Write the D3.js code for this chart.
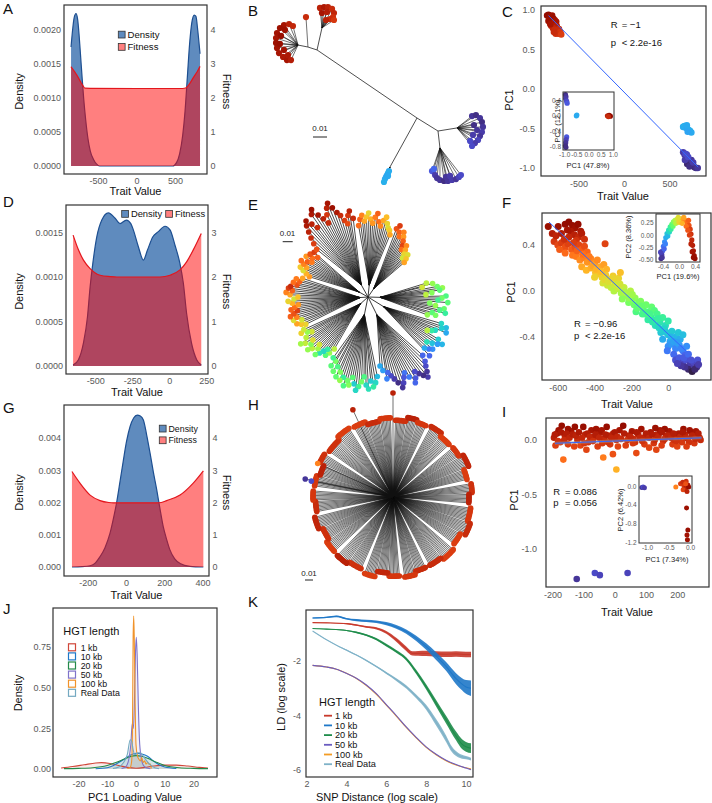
<!DOCTYPE html>
<html>
<head>
<meta charset="utf-8">
<script src="https://cdn.jsdelivr.net/npm/d3@7"></script>
<style>
  body { margin: 0; background: #fff; }
  svg { display: block; }
</style>
</head>
<body>
<svg id="fig" width="712" height="803"></svg>
<script>
// ---------------- data ----------------
// A, D, G: [trait value, density] and [trait value, fitness]
const aDensity = [[-850, 0.00175], [-830, 0.0020], [-810, 0.00218], [-786, 0.00224], [-765, 0.00216], [-745, 0.00192], [-725, 0.0016], [-705, 0.00128], [-685, 0.00098], [-660, 0.00068], [-630, 0.0004], [-600, 0.00022], [-560, 0.0001], [-520, 0.00003], [-480, 0], [0, 0], [470, 0], [520, 0.00005], [560, 0.00018], [600, 0.00045], [630, 0.0008], [660, 0.0013], [690, 0.0018], [720, 0.00212], [750, 0.00222], [772, 0.0022], [795, 0.002], [825, 0.00165]]
const aFitness = [[-850, 2.92], [-800, 2.76], [-756, 2.6], [-720, 2.45], [-690, 2.34], [-670, 2.29], [-600, 2.285], [0, 2.28], [600, 2.28], [645, 2.3], [690, 2.42], [738, 2.6], [790, 2.78], [825, 2.93]]
const dDensity = [[-650, 0.00001], [-614, 0.00007], [-580, 0.00026], [-553, 0.00055], [-535, 0.00089], [-517, 0.00115], [-490, 0.00145], [-456, 0.00164], [-412, 0.00172], [-366, 0.00166], [-333, 0.0016], [-290, 0.00164], [-260, 0.0016], [-243, 0.00153], [-209, 0.00134], [-175, 0.00119], [-148, 0.0013], [-112, 0.00145], [-74, 0.00151], [-29, 0.00157], [5, 0.00153], [38, 0.00136], [72, 0.00115], [95, 0.00093], [117, 0.00059], [151, 0.00025], [185, 0.00007], [216, 0.00001]]
const dFitness = [[-650, 2.94], [-614, 2.61], [-580, 2.38], [-535, 2.19], [-467, 2.04], [-400, 2.01], [-355, 2.0], [-63, 2.0], [5, 2.04], [72, 2.16], [117, 2.34], [162, 2.61], [216, 2.98]]
const gDensity = [[-283, 0], [-230, 0.00001], [-188, 0.00004], [-160, 0.00013], [-136, 0.00032], [-110, 0.0006], [-84, 0.00104], [-66, 0.0015], [-49, 0.002], [-30, 0.0027], [-14, 0.0033], [3, 0.0039], [21, 0.00435], [40, 0.00462], [59, 0.00471], [75, 0.00468], [91, 0.00456], [108, 0.0041], [126, 0.00353], [143, 0.00295], [161, 0.00239], [178, 0.0018], [195, 0.00125], [213, 0.00085], [230, 0.00053], [255, 0.00025], [283, 0.00011], [335, 0.00002], [405, 0]]
const gFitness = [[-283, 2.96], [-241, 2.6], [-188, 2.23], [-136, 2.06], [-90, 2.0], [-66, 1.99], [161, 1.99], [185, 2.0], [213, 2.06], [283, 2.23], [352, 2.6], [405, 2.98]]

// B: unrooted tree, node positions in units of 0.001 substitutions [x, y, parent]
const bNodes = {
  root: [0, 0, null], n2: [15, 9.3, 'root'], n3: [28.6, 7.1, 'n2'], nP: [16.4, 21.4, 'n2'],
  nC: [-19.3, 35, 'root'], n4: [-71.4, -48.6, 'root'], nR1: [-67.9, -64.3, 'n4'],
  n5: [-77.9, -50.7, 'n4'], nR2: [-85, -52.1, 'n5']
}
// tips: [parent, x, y, colour value]
const bTips = [
  ['n3', 39.3, -1.4, 0.05], ['n3', 42.1, -2.1, 0.04], ['n3', 45, 0, 0.05], ['n3', 46.4, 2.9, 0.04], ['n3', 47.1, 6.4, 0.05], ['n3', 46.4, 10, 0.06], ['n3', 45, 12.9, 0.05], ['n3', 43.6, 15.7, 0.07], ['n3', 41.4, 17.9, 0.06], ['n3', 39.3, 20, 0.08], ['n3', 40.7, 5, 0.04], ['n3', 42.9, 8.6, 0.05], ['n3', 40, 12.1, 0.06], ['n3', 37.9, 16.4, 0.08],
  ['nP', 10.7, 37.9, 0.1], ['nP', 12.9, 40.7, 0.06], ['nP', 14.3, 42.9, 0.05], ['nP', 16.4, 44.3, 0.05], ['nP', 19.3, 45, 0.04], ['nP', 22.1, 45, 0.05], ['nP', 25, 44.3, 0.06], ['nP', 27.9, 43.6, 0.05], ['nP', 30, 42.1, 0.07], ['nP', 31.4, 40.7, 0.08], ['nP', 20.7, 42.1, 0.05], ['nP', 23.6, 41.4, 0.06], ['nP', 12.1, 36.4, 0.12],
  ['nC', -20, 37.9, 0.22], ['nC', -20.7, 39.3, 0.23], ['nC', -21.4, 40.7, 0.22], ['nC', -22.1, 42.1, 0.21], ['nC', -22.9, 43.6, 0.22], ['nC', -23.6, 45.7, 0.23], ['nC', -20.7, 41.4, 0.22],
  ['nR1', -69.3, -78.6, 0.9], ['nR1', -66.4, -79.3, 0.92], ['nR1', -63.6, -79.3, 0.9], ['nR1', -60.7, -77.9, 0.88], ['nR1', -59.3, -75, 0.89], ['nR1', -60, -72.1, 0.87], ['nR1', -62.1, -70.7, 0.88], ['nR1', -65, -70, 0.9], ['nR1', -67.9, -75, 0.93], ['nR1', -64.3, -75.7, 0.91], ['nR1', -59.3, -70, 0.86],
  ['n5', -79.3, -72.1, 0.88],
  ['nR2', -95, -66.4, 0.93], ['nR2', -91.4, -67.1, 0.9], ['nR2', -88.6, -65.7, 0.89], ['nR2', -97.9, -64.3, 0.95], ['nR2', -100, -60.7, 0.94], ['nR2', -100.7, -57.1, 0.93], ['nR2', -100.7, -53.6, 0.95], ['nR2', -100, -50, 0.94], ['nR2', -98.6, -46.4, 0.93], ['nR2', -95.7, -43.6, 0.92], ['nR2', -92.9, -41.4, 0.93], ['nR2', -90, -41.4, 0.91], ['nR2', -97.1, -58.6, 0.96], ['nR2', -94.3, -62.9, 0.95], ['nR2', -97.9, -52.9, 0.96], ['nR2', -95, -48.6, 0.94], ['nR2', -92.1, -45, 0.92]
]

// C: [trait value, PC1, colour value]
const cPoints = [
  [-845, 0.93, 0.97], [-830, 0.94, 0.98], [-815, 0.92, 0.96], [-800, 0.9, 0.97], [-790, 0.93, 0.95], [-775, 0.89, 0.96], [-760, 0.87, 0.94], [-820, 0.88, 0.95], [-805, 0.85, 0.93], [-785, 0.84, 0.92], [-765, 0.82, 0.92], [-745, 0.85, 0.93], [-740, 0.8, 0.91], [-800, 0.8, 0.9], [-780, 0.77, 0.89], [-760, 0.75, 0.88], [-735, 0.74, 0.87], [-715, 0.76, 0.88], [-700, 0.72, 0.86], [-720, 0.7, 0.86], [-750, 0.7, 0.87], [-690, 0.69, 0.85], [-770, 0.72, 0.88], [-830, 0.86, 0.95], [-810, 0.82, 0.93],
  [650, -0.48, 0.22], [665, -0.47, 0.23], [680, -0.49, 0.22], [695, -0.5, 0.21], [710, -0.52, 0.22], [725, -0.53, 0.23], [740, -0.55, 0.22], [700, -0.54, 0.21], [690, -0.46, 0.22],
  [650, -0.8, 0.06], [665, -0.83, 0.05], [680, -0.86, 0.05], [690, -0.88, 0.04], [700, -0.9, 0.05], [715, -0.92, 0.04], [730, -0.94, 0.05], [745, -0.96, 0.04], [760, -0.97, 0.04], [775, -0.99, 0.03], [790, -1.0, 0.04], [810, -1.0, 0.05], [695, -0.95, 0.03], [720, -0.98, 0.04], [670, -0.9, 0.06], [740, -0.9, 0.05], [760, -0.93, 0.06], [690, -0.83, 0.07], [705, -0.86, 0.08], [675, -0.82, 0.08]
]
const cFit = [[-830, 0.93], [815, -0.99]]
// C inset: [PC1, PC2, colour value]
const cInset = [[-0.95, 0.55, 0.04], [-0.93, 0.5, 0.05], [-0.94, 0.45, 0.06], [-0.9, 0.38, 0.08], [-0.88, 0.33, 0.1], [-0.9, -0.55, 0.1], [-0.92, -0.62, 0.07], [-0.94, -0.7, 0.05], [-0.95, -0.78, 0.04], [-0.93, -0.82, 0.04], [-0.5, 0.0, 0.22], [-0.48, 0.02, 0.22], [0.78, 0.0, 0.9], [0.85, 0.01, 0.95], [0.9, -0.01, 0.97], [0.82, -0.02, 0.88]]

// E: clades of the radial tree; hub = distance of clade node, tips = [colour value, length] (length in 0.001 subs)
const eClades = [
  { hub: 12, tips: [[0.55, 60], [0.5, 66], [0.58, 55], [0.45, 70], [0.5, 75], [0.42, 72], [0.48, 64], [0.55, 58], [0.4, 78], [0.45, 74], [0.38, 70], [0.42, 80], [0.47, 62], [0.5, 68], [0.44, 77], [0.4, 73], [0.36, 79], [0.42, 66], [0.46, 70], [0.5, 62]] },
  { hub: 18, tips: [[0.3, 78], [0.25, 84], [0.28, 80], [0.22, 86], [0.3, 75], [0.35, 72], [0.55, 68], [0.28, 82], [0.24, 88], [0.2, 84], [0.26, 79], [0.32, 74], [0.18, 83], [0.15, 80], [0.22, 76], [0.12, 85]] },
  { hub: 20, tips: [[0.12, 80], [0.1, 86], [0.08, 90], [0.05, 95], [0.06, 100], [0.04, 96], [0.05, 92], [0.08, 88], [0.1, 94], [0.12, 98], [0.15, 90], [0.14, 84], [0.1, 88], [0.07, 93], [0.05, 97], [0.04, 91], [0.06, 86], [0.08, 82], [0.12, 78], [0.16, 84], [0.2, 75], [0.22, 70]] },
  { hub: 18, tips: [[0.25, 80], [0.3, 86], [0.35, 90], [0.28, 84], [0.32, 92], [0.3, 88], [0.4, 80], [0.45, 85], [0.38, 90], [0.3, 94], [0.28, 88], [0.42, 82], [0.48, 90], [0.45, 86], [0.4, 92], [0.36, 84], [0.5, 88], [0.47, 80], [0.43, 86], [0.4, 76], [0.44, 82], [0.46, 72], [0.42, 78], [0.38, 70]] },
  { hub: 10, tips: [[0.55, 62], [0.5, 68], [0.42, 72], [0.35, 66], [0.3, 70], [0.32, 74], [0.45, 78], [0.52, 72], [0.58, 68], [0.55, 76], [0.5, 80], [0.48, 74], [0.6, 70], [0.56, 78], [0.52, 82], [0.55, 74], [0.58, 66], [0.5, 70], [0.62, 76], [0.57, 72]] },
  { hub: 8, tips: [[0.62, 68], [0.65, 72], [0.7, 76], [0.58, 70], [0.6, 78], [0.75, 74], [0.8, 80], [0.82, 76], [0.85, 72], [0.8, 78], [0.78, 74], [0.72, 70], [0.68, 76], [0.62, 80], [0.58, 74], [0.65, 70], [0.7, 78], [0.75, 82], [0.8, 76], [0.85, 80], [0.88, 78], [0.82, 72], [0.78, 76], [0.8, 70], [0.76, 74], [0.7, 68]] },
  { hub: 10, tips: [[0.72, 62], [0.68, 66], [0.6, 70], [0.64, 74], [0.7, 68], [0.75, 72], [0.78, 76], [0.8, 70], [0.76, 66], [0.72, 74], [0.78, 68], [0.82, 72], [0.8, 64], [0.85, 70]] },
  { hub: 14, tips: [[0.82, 70], [0.85, 76], [0.88, 82], [0.9, 88], [0.92, 94], [0.94, 98], [0.9, 92], [0.88, 86], [0.92, 100], [0.95, 104], [0.93, 96], [0.9, 90], [0.88, 84], [0.86, 92], [0.9, 98], [0.93, 102], [0.95, 96], [0.92, 90], [0.88, 86], [0.85, 80], [0.83, 76], [0.86, 84], [0.9, 88], [0.88, 80]] },
  { hub: 12, tips: [[0.78, 72], [0.8, 78], [0.75, 82], [0.7, 76], [0.65, 80], [0.62, 84], [0.68, 78], [0.72, 74], [0.76, 80], [0.8, 84], [0.78, 76], [0.74, 72], [0.7, 78], [0.66, 82], [0.62, 76], [0.6, 72], [0.64, 70], [0.7, 66]] },
  { hub: 10, tips: [[0.82, 74], [0.85, 78], [0.8, 72], [0.78, 68], [0.75, 74], [0.72, 70], [0.8, 66], [0.84, 62], [0.78, 58], [0.74, 64], [0.7, 60], [0.62, 56], [0.58, 52], [0.6, 58], [0.65, 54], [0.7, 50]] }
]

// F: [trait value, PC1]
const fPoints = [
  [-652, 0.56], [-598, 0.56], [-560, 0.58], [-540, 0.6], [-520, 0.57], [-505, 0.55], [-490, 0.58], [-475, 0.52], [-530, 0.52], [-510, 0.49], [-488, 0.47], [-470, 0.5], [-455, 0.45], [-540, 0.47], [-500, 0.44],
  [-620, 0.43], [-600, 0.4], [-580, 0.42], [-560, 0.38], [-545, 0.41], [-525, 0.36], [-505, 0.38], [-485, 0.4], [-470, 0.36], [-455, 0.39], [-440, 0.34], [-343, 0.41], [-590, 0.36], [-560, 0.33], [-520, 0.31],
  [-500, 0.3], [-480, 0.27], [-460, 0.29], [-440, 0.25], [-420, 0.28], [-400, 0.24], [-385, 0.27], [-370, 0.21], [-350, 0.23], [-335, 0.19], [-470, 0.21], [-445, 0.18], [-420, 0.2], [-395, 0.16],
  [-380, 0.15], [-360, 0.12], [-340, 0.14], [-320, 0.1], [-300, 0.13], [-285, 0.08], [-270, 0.11], [-355, 0.07], [-330, 0.05], [-310, 0.03], [-290, 0.06], [-260, 0.16], [-400, 0.12],
  [-295, 0.0], [-275, 0.02], [-255, -0.02], [-240, 0.03], [-225, -0.04], [-205, 0.0], [-250, -0.07], [-180, -0.06], [-160, -0.1],
  [-200, -0.08], [-185, -0.12], [-165, -0.14], [-150, -0.09], [-135, -0.16], [-120, -0.12], [-105, -0.18], [-90, -0.14], [-175, -0.18], [-140, -0.2], [-75, -0.17], [-215, -0.1],
  [-95, -0.22], [-80, -0.25], [-60, -0.2], [-45, -0.27], [-30, -0.23], [-15, -0.3], [-70, -0.3], [-110, -0.25], [0, -0.26],
  [-40, -0.36], [-20, -0.33], [0, -0.38], [20, -0.35], [40, -0.4], [55, -0.36], [65, -0.42], [-30, -0.42], [10, -0.44], [80, -0.38], [-50, -0.32],
  [0, -0.48], [20, -0.46], [40, -0.5], [60, -0.47], [80, -0.52], [100, -0.48], [-5, -0.52], [30, -0.55], [90, -0.56],
  [40, -0.6], [60, -0.58], [80, -0.62], [100, -0.6], [120, -0.64], [140, -0.62], [155, -0.66], [110, -0.68], [90, -0.66], [70, -0.65], [130, -0.7], [160, -0.6], [50, -0.63],
  [-630, 0.5], [-610, 0.48], [-580, 0.5], [-565, 0.45], [-548, 0.53], [-515, 0.42], [-495, 0.35], [-465, 0.32], [-430, 0.3], [-410, 0.22], [-390, 0.19], [-365, 0.17], [-345, 0.1], [-325, 0.08], [-305, 0.11], [-280, 0.04], [-262, 0.06], [-235, -0.01], [-215, -0.06], [-195, -0.03], [-170, -0.15], [-145, -0.13], [-125, -0.2], [-100, -0.2], [-85, -0.27], [-55, -0.24], [-35, -0.34], [-10, -0.36], [15, -0.4], [30, -0.44], [50, -0.45], [70, -0.5], [85, -0.58], [110, -0.55], [125, -0.6], [145, -0.68], [165, -0.64]
]
const fFit = [[-648, 0.6], [103, -0.53]]
// F inset: [PC1, PC2, colour value]
const fInset = [
  [-0.45, -0.48, 0.04], [-0.43, -0.4, 0.06], [-0.41, -0.32, 0.1], [-0.39, -0.23, 0.14], [-0.36, -0.14, 0.18], [-0.33, -0.05, 0.22], [-0.3, 0.03, 0.27], [-0.26, 0.1, 0.32], [-0.22, 0.17, 0.37], [-0.18, 0.22, 0.42], [-0.14, 0.27, 0.47], [-0.1, 0.3, 0.52], [-0.05, 0.32, 0.57], [0.0, 0.33, 0.61], [0.05, 0.33, 0.65], [0.1, 0.32, 0.7], [0.15, 0.3, 0.74], [0.2, 0.26, 0.78], [0.25, 0.2, 0.82], [0.28, 0.12, 0.85], [0.3, 0.02, 0.87], [0.32, -0.1, 0.89], [0.34, -0.21, 0.91], [0.36, -0.32, 0.93], [0.38, -0.42, 0.95], [0.4, -0.48, 0.97],
  [-0.46, -0.35, 0.07], [-0.42, -0.46, 0.05], [-0.37, -0.28, 0.12], [-0.34, -0.18, 0.16], [-0.28, -0.02, 0.24], [-0.24, 0.06, 0.3], [-0.2, 0.12, 0.36], [-0.15, 0.18, 0.44], [-0.08, 0.24, 0.54], [0.0, 0.26, 0.62], [0.08, 0.24, 0.68], [0.18, 0.18, 0.78], [0.22, 0.1, 0.82], [0.26, 0.0, 0.85], [0.3, -0.18, 0.9], [0.33, -0.34, 0.93], [0.36, -0.46, 0.96], [0.24, 0.3, 0.8], [0.12, 0.36, 0.7], [-0.02, 0.36, 0.6]
]

// H: sectors between the white gaps, each a list of tip groups [count, colour value, length]
const hSectors = [
  [[8, 0.87, 0.096], [7, 0.9, 0.101], [7, 0.86, 0.098]],
  [[9, 0.88, 0.1], [9, 0.85, 0.096]],
  [[8, 0.86, 0.097], [9, 0.89, 0.102], [8, 0.85, 0.095]],
  [[7, 0.87, 0.099], [7, 0.9, 0.095]],
  [[10, 0.86, 0.098], [9, 0.88, 0.102], [9, 0.85, 0.096]],
  [[10, 0.85, 0.1], [10, 0.88, 0.097]],
  [[8, 0.88, 0.097], [8, 0.86, 0.101]],
  [[8, 0.86, 0.099], [8, 0.89, 0.095], [8, 0.85, 0.102]],
  [[10, 0.87, 0.098], [9, 0.9, 0.101]],
  [[9, 0.85, 0.1], [9, 0.87, 0.096], [9, 0.89, 0.101]],
  [[8, 0.88, 0.097], [7, 0.86, 0.1]],
  [[8, 0.86, 0.099], [8, 0.9, 0.095], [7, 0.87, 0.101]],
  [[11, 0.87, 0.098], [10, 0.85, 0.102]],
  [[9, 0.85, 0.1], [9, 0.88, 0.096], [8, 0.86, 0.099]]
]
// H single long tips: [angle deg, length, colour value]
const hExtra = [[-90, 0.13, 0.9], [-114.7, 0.12, 0.9], [191.6, 0.112, 0.05], [191, 0.104, 0.08], [204, 0.103, 0.75]]

// I: [trait value, PC1, colour value]
const iPoints = [
  [-195, 0.02, 0.9], [-185, 0.06, 0.93], [-175, -0.02, 0.86], [-170, 0.13, 0.96], [-160, 0.04, 0.9], [-150, -0.04, 0.85], [-140, 0.08, 0.93], [-128, 0.12, 0.96], [-120, 0.0, 0.88], [-110, -0.05, 0.84], [-101, 0.12, 0.96], [-95, 0.05, 0.9], [-85, -0.02, 0.87], [-75, 0.09, 0.93], [-65, 0.03, 0.9], [-55, -0.06, 0.85], [-45, 0.07, 0.92], [-35, 0.01, 0.88], [-26, 0.12, 0.96], [-15, -0.04, 0.86], [-5, 0.06, 0.91], [5, 0.0, 0.88], [15, 0.09, 0.93], [27, 0.13, 0.97], [35, -0.05, 0.85], [45, 0.04, 0.9], [55, 0.08, 0.93], [65, -0.02, 0.87], [75, 0.05, 0.9], [85, 0.1, 0.94], [95, -0.04, 0.85], [105, 0.03, 0.89], [115, 0.07, 0.92], [125, -0.03, 0.86], [135, 0.05, 0.9], [145, 0.09, 0.93], [155, -0.01, 0.87], [165, 0.04, 0.9], [175, 0.08, 0.93], [185, -0.04, 0.85], [195, 0.03, 0.89], [205, 0.06, 0.92], [215, -0.02, 0.86], [225, 0.05, 0.9], [235, 0.01, 0.88], [245, 0.07, 0.93], [255, -0.03, 0.86], [265, 0.04, 0.9], [272, 0.02, 0.88], [-190, -0.05, 0.85], [-130, -0.06, 0.84], [-60, 0.1, 0.94], [10, -0.06, 0.84], [60, 0.01, 0.88], [110, -0.07, 0.84], [160, 0.1, 0.95], [200, -0.06, 0.84], [240, 0.09, 0.94], [-180, 0.09, 0.94], [-20, 0.04, 0.9], [90, 0.02, 0.89], [130, 0.11, 0.95], [190, 0.0, 0.87], [260, 0.08, 0.93], [-150, 0.1, 0.95], [-40, -0.03, 0.86], [150, -0.05, 0.85], [220, 0.1, 0.95],
  [-192, 0.05, 0.91], [-182, -0.01, 0.87], [-172, 0.07, 0.92], [-162, 0.0, 0.88], [-155, 0.06, 0.91], [-145, 0.02, 0.89], [-135, 0.05, 0.91], [-125, 0.04, 0.9], [-115, 0.07, 0.92], [-105, 0.02, 0.89], [-98, -0.03, 0.86], [-88, 0.06, 0.91], [-80, 0.03, 0.89], [-70, -0.01, 0.87], [-62, 0.05, 0.91], [-50, 0.02, 0.89], [-42, 0.09, 0.93], [-30, 0.05, 0.91], [-22, -0.02, 0.87], [-10, 0.02, 0.89], [0, 0.07, 0.92], [8, 0.03, 0.89], [20, 0.01, 0.88], [30, 0.06, 0.91], [40, 0.0, 0.87], [50, 0.03, 0.89], [58, -0.03, 0.86], [70, 0.07, 0.92], [80, 0.02, 0.89], [88, -0.01, 0.87], [100, 0.06, 0.91], [110, 0.02, 0.89], [120, 0.05, 0.91], [128, 0.0, 0.88], [140, 0.03, 0.89], [150, 0.07, 0.92], [160, 0.01, 0.88], [170, 0.04, 0.9], [180, 0.02, 0.89], [188, 0.06, 0.91], [198, -0.01, 0.87], [210, 0.03, 0.89], [218, 0.07, 0.92], [228, 0.02, 0.89], [238, -0.02, 0.87], [248, 0.04, 0.9], [258, 0.01, 0.88], [268, 0.06, 0.91], [275, 0.0, 0.88],
  [-165, -0.18, 0.78], [-37, -0.16, 0.76], [5, -0.27, 0.68], [-91, -0.09, 0.84], [-6, -0.13, 0.82], [69, -0.12, 0.83], [133, -0.09, 0.84], [230, -0.06, 0.85],
  [-122, -1.275, 0.05], [-64, -1.22, 0.08], [-48, -1.24, 0.07], [41, -1.22, 0.07]
]
const iFit = [[-192, -0.03], [278, 0.02]]
// I inset: [PC1, PC2, colour value]
const iInset = [[-1.12, -0.03, 0.05], [-1.09, -0.02, 0.08], [-1.06, -0.04, 0.06], [-0.33, -0.02, 0.75], [-0.22, 0.05, 0.85], [-0.17, 0.08, 0.88], [-0.14, 0.0, 0.86], [-0.11, -0.05, 0.9], [-0.09, 0.1, 0.87], [-0.05, 0.02, 0.93], [-0.16, -0.08, 0.84], [-0.07, -0.12, 0.9], [-0.03, -0.02, 0.96], [-0.08, -0.47, 0.95], [-0.05, -0.94, 0.96], [-0.07, -1.05, 0.94], [-0.06, -1.15, 0.95], [-0.1, 0.05, 0.82]]

// J: density of PC1 loadings, [loading, density]
const hgtLabels = ['1 kb', '10 kb', '20 kb', '50 kb', '100 kb', 'Real Data']
const jColors = ['#d0473a', '#1f78c8', '#23894a', '#7f73c9', '#f0932b', '#74a9c1']
const j1kb = [[-26, 0.006], [-22, 0.015], [-18, 0.026], [-14, 0.037], [-12, 0.039], [-9, 0.034], [-6, 0.022], [-3, 0.01], [0, 0.005], [3, 0.01], [6, 0.018], [10, 0.024], [14, 0.024], [18, 0.018], [22, 0.01], [25, 0.005]]
const j10kb = [[-14, 0.002], [-10, 0.008], [-8, 0.02], [-6, 0.04], [-4, 0.062], [-2, 0.085], [0, 0.097], [2, 0.092], [4, 0.078], [6, 0.05], [8, 0.026], [10, 0.012], [14, 0.003]]
const j20kb = [[-25, 0.002], [-20, 0.004], [-15, 0.008], [-10, 0.022], [-7, 0.04], [-4, 0.062], [-2, 0.076], [0, 0.082], [2, 0.078], [4, 0.066], [7, 0.042], [10, 0.022], [15, 0.008], [20, 0.004], [25, 0.002]]
const j50kb = [[-5, 0.003], [-3.5, 0.015], [-2.5, 0.06], [-1.8, 0.15], [-1.3, 0.28], [-0.9, 0.25], [-0.5, 0.45], [-0.2, 0.7], [0.1, 0.81], [0.4, 0.7], [0.8, 0.4], [1.2, 0.18], [1.8, 0.07], [2.5, 0.025], [3.5, 0.008], [5, 0.002]]
const j100kb = [[-3, 0.003], [-2, 0.01], [-1.5, 0.05], [-1.2, 0.3], [-1.0, 0.8], [-0.8, 0.94], [-0.6, 0.8], [-0.3, 0.4], [0, 0.15], [0.5, 0.08], [1, 0.06], [1.5, 0.05], [2, 0.07], [2.5, 0.04], [3, 0.05], [3.5, 0.03], [4, 0.04], [4.5, 0.03], [5, 0.03], [5.3, 0.002]]
const jReal = [[-8, 0.003], [-6, 0.012], [-4.5, 0.035], [-3, 0.09], [-2, 0.18], [-1.5, 0.17], [-1, 0.12], [-0.5, 0.09], [0, 0.09], [0.5, 0.1], [1.5, 0.1], [2.5, 0.08], [3.5, 0.055], [5, 0.025], [6.5, 0.008], [8, 0.002]]

// K: LD decay, [log distance, log LD, half width of the noise band]
const kColors = ['#c8392b', '#1f78c8', '#1e8c4a', '#6a5cc0', '#f39c24', '#7fb2c8']
const k1kb = [[2.3, -0.59, 0.01], [3, -0.6, 0.01], [4, -0.63, 0.02], [5, -0.75, 0.03], [5.5, -0.8, 0.04], [6, -0.95, 0.05], [6.5, -1.22, 0.07], [7, -1.55, 0.08], [7.3, -1.72, 0.08], [7.6, -1.72, 0.09], [8, -1.72, 0.1], [8.5, -1.74, 0.1], [9, -1.75, 0.1], [9.5, -1.74, 0.1], [10, -1.76, 0.1], [10.25, -1.76, 0.1]]
const k10kb = [[2.3, -0.42, 0.02], [3, -0.4, 0.02], [3.5, -0.36, 0.03], [4, -0.45, 0.03], [4.5, -0.5, 0.04], [5, -0.53, 0.04], [5.5, -0.56, 0.05], [6, -0.63, 0.06], [6.5, -0.75, 0.07], [7, -0.92, 0.08], [7.5, -1.17, 0.1], [8, -1.47, 0.12], [8.5, -1.82, 0.14], [9, -2.2, 0.16], [9.5, -2.65, 0.2], [9.8, -2.85, 0.22], [10, -2.95, 0.25], [10.25, -3.0, 0.28]]
const k20kb = [[2.3, -0.81, 0.01], [3, -0.83, 0.01], [4, -0.88, 0.02], [4.5, -0.95, 0.03], [5, -1.05, 0.03], [5.5, -1.2, 0.04], [6, -1.42, 0.05], [6.5, -1.65, 0.05], [7, -1.92, 0.06], [7.5, -2.4, 0.08], [8, -2.95, 0.1], [8.5, -3.55, 0.12], [9, -4.15, 0.14], [9.5, -4.75, 0.16], [9.8, -5.05, 0.18], [10, -5.15, 0.18], [10.25, -5.2, 0.18]]
const k50kb = [[2.3, -2.16, 0], [3, -2.22, 0], [3.5, -2.3, 0], [4, -2.45, 0], [4.5, -2.63, 0], [5, -2.88, 0], [5.5, -3.2, 0], [6, -3.6, 0], [6.5, -4.0, 0], [7, -4.42, 0], [7.5, -4.8, 0], [8, -5.15, 0], [8.5, -5.42, 0], [9, -5.64, 0], [9.5, -5.8, 0], [10, -5.93, 0], [10.25, -5.99, 0]]
const k100kb = [[2.3, -2.16, 0], [3, -2.22, 0], [3.5, -2.3, 0], [4, -2.45, 0], [4.5, -2.64, 0], [5, -2.9, 0], [5.5, -3.22, 0], [6, -3.62, 0], [6.5, -4.02, 0], [7, -4.44, 0], [7.5, -4.82, 0], [8, -5.17, 0], [8.5, -5.44, 0], [9, -5.66, 0], [9.5, -5.82, 0], [10, -5.92, 0], [10.25, -5.96, 0]]
const kReal = [[2.3, -0.9, 0], [3, -1.22, 0.01], [3.5, -1.42, 0.01], [4, -1.6, 0.02], [4.5, -1.78, 0.02], [5, -1.98, 0.03], [5.5, -2.2, 0.03], [6, -2.44, 0.04], [6.5, -2.68, 0.05], [7, -2.95, 0.06], [7.5, -3.3, 0.07], [8, -3.7, 0.09], [8.5, -4.25, 0.12], [9, -4.85, 0.12], [9.3, -5.25, 0.1], [9.6, -5.45, 0.08], [10, -5.55, 0.06], [10.25, -5.6, 0.05]]

// ---------------- helpers ----------------
const fig = d3.select('#fig')
const FONT = '"Liberation Sans", Arial, Helvetica, sans-serif'
const TICK = '#595959'
const DENS_FILL = '#1b5aa2'
const DENS_LINE = '#1d4f91'
const FIT_LINE = '#e3161d'
const turbo = d3.interpolateTurbo
fig.attr('font-family', FONT)

function txt (x, y, s, size, o = {}) {
  const t = fig.append('text').attr('x', x).attr('y', y).text(s)
    .attr('font-size', size).attr('fill', o.fill || '#111')
    .attr('text-anchor', o.anchor || 'start')
  if (o.rotate) t.attr('transform', `rotate(${o.rotate},${x},${y})`)
  return t
}

function panelLabel (x, y, s) { txt(x, y, s, 15) }

function box (b, w = 1.2) {
  fig.append('rect').attr('x', b[0]).attr('y', b[1])
    .attr('width', b[2] - b[0]).attr('height', b[3] - b[1])
    .attr('fill', 'none').attr('stroke', '#333').attr('stroke-width', w)
}

function axis (kind, scale, ticks, fmt, pos, pad, size = 9) {
  const maker = kind === 'left' ? d3.axisLeft : kind === 'right' ? d3.axisRight : d3.axisBottom
  const a = maker(scale).tickValues(ticks).tickFormat(fmt).tickSize(0).tickPadding(pad)
  const tr = kind === 'bottom' ? `translate(0,${pos})` : `translate(${pos},0)`
  const ag = fig.append('g').attr('transform', tr).call(a)
  ag.select('.domain').remove()
  ag.attr('font-family', FONT).attr('font-size', size)
  ag.selectAll('text').attr('fill', TICK)
  return ag
}

function dots (pts, x, y, r, color) {
  fig.append('g').selectAll('circle').data(pts).enter().append('circle')
    .attr('cx', d => x(d[0])).attr('cy', d => y(d[1])).attr('r', r).attr('fill', color)
}

// ---------------- A, D, G ----------------
function densityPanel (p) {
  const x = d3.scaleLinear().domain(p.xRef).range(p.xPx)
  const yD = d3.scaleLinear().domain(p.dRef).range(p.yPx)
  const yF = d3.scaleLinear().domain(p.fRef).range(p.yPx)
  const curve = d3.curveMonotoneX
  const g = fig.append('g')
  g.append('path').attr('d', d3.area().x(d => x(d[0])).y0(yD(0)).y1(d => yD(d[1])).curve(curve)(p.density))
    .attr('fill', DENS_FILL).attr('fill-opacity', 0.7)
  g.append('path').attr('d', d3.line().x(d => x(d[0])).y(d => yD(d[1])).curve(curve)(p.density))
    .attr('fill', 'none').attr('stroke', DENS_LINE).attr('stroke-width', 1.2)
  g.append('path').attr('d', d3.area().x(d => x(d[0])).y0(yF(0)).y1(d => yF(d[1])).curve(curve)(p.fitness))
    .attr('fill', '#ff0000').attr('fill-opacity', 0.5)
  g.append('path').attr('d', d3.line().x(d => x(d[0])).y(d => yF(d[1])).curve(curve)(p.fitness))
    .attr('fill', 'none').attr('stroke', FIT_LINE).attr('stroke-width', 1.2)
  const b = p.box
  box(b)
  axis('left', yD, p.dTicks, d => d.toFixed(p.dDigits), b[0], 3)
  axis('right', yF, p.fTicks, d => String(d), b[2], 3.5)
  axis('bottom', x, p.xTicks, d => String(d), b[3], 3.5)
  txt((b[0] + b[2]) / 2, p.titleY, 'Trait Value', 11, { anchor: 'middle' })
  txt(23, (b[1] + b[3]) / 2 + 2, 'Density', 11, { anchor: 'middle', rotate: -90 })
  txt(223, (b[1] + b[3]) / 2 + 2, 'Fitness', 11, { anchor: 'middle', rotate: 90 })
  // legend
  const L = p.legend
  const items = [['Density', DENS_FILL, 0.7], ['Fitness', '#ff0000', 0.5]]
  items.forEach((it, i) => {
    const lx = L.x + i * L.dx
    const ly = L.y + i * L.dy
    fig.append('rect').attr('x', lx).attr('y', ly - 6.5).attr('width', 6.8).attr('height', 6.8)
      .attr('fill', it[1]).attr('fill-opacity', it[2]).attr('stroke', '#333').attr('stroke-width', 0.8)
    txt(lx + 9.2, ly, it[0], L.size)
  })
}

densityPanel({
  density: aDensity, fitness: aFitness,
  xRef: [0, 500], xPx: [136.5, 175], dRef: [0, 0.002], fRef: [0, 4], yPx: [166, 30],
  box: [64, 5, 207, 174], dTicks: [0, 0.0005, 0.001, 0.0015, 0.002], dDigits: 4,
  fTicks: [0, 1, 2, 3, 4], xTicks: [-500, 0, 500], titleY: 195,
  legend: { x: 118.3, y: 37.7, dx: 0, dy: 12.3, size: 9.6 }
})
densityPanel({
  density: dDensity, fitness: dFitness,
  xRef: [0, 250], xPx: [169.3, 206.3], dRef: [0, 0.0015], fRef: [0, 3], yPx: [366, 232.5],
  box: [66, 205, 208, 374], dTicks: [0, 0.0005, 0.001, 0.0015], dDigits: 4,
  fTicks: [0, 1, 2, 3], xTicks: [-500, -250, 0, 250], titleY: 396,
  legend: { x: 121.7, y: 217, dx: 44, dy: 0, size: 9.4 }
})
densityPanel({
  density: gDensity, fitness: gFitness,
  xRef: [0, 400], xPx: [126, 202.4], dRef: [0, 0.004], fRef: [0, 4], yPx: [567, 438],
  box: [64, 405, 209, 576], dTicks: [0, 0.001, 0.002, 0.003, 0.004], dDigits: 3,
  fTicks: [0, 1, 2, 3, 4], xTicks: [-200, 0, 200, 400], titleY: 598.5,
  legend: { x: 159.3, y: 431.7, dx: 0, dy: 11.7, size: 8.8 }
})

// ---------------- B ----------------
{
  const s = d3.scaleLinear().domain([0, 0.01]).range([0, 14])
  const px = u => 417 + s(u * 0.001)
  const py = v => 118 + s(v * 0.001)
  const g = fig.append('g')
  Object.values(bNodes).forEach(n => {
    if (!n[2]) return
    const p = bNodes[n[2]]
    g.append('line').attr('x1', px(p[0])).attr('y1', py(p[1])).attr('x2', px(n[0])).attr('y2', py(n[1]))
      .attr('stroke', '#222').attr('stroke-width', 0.8)
  })
  g.selectAll('line.tip').data(bTips).enter().append('line').attr('class', 'tip')
    .attr('x1', d => px(bNodes[d[0]][0])).attr('y1', d => py(bNodes[d[0]][1]))
    .attr('x2', d => px(d[1])).attr('y2', d => py(d[2]))
    .attr('stroke', '#111').attr('stroke-width', 0.6)
  g.selectAll('circle').data(bTips).enter().append('circle')
    .attr('cx', d => px(d[1])).attr('cy', d => py(d[2])).attr('r', 3.1).attr('fill', d => turbo(d[3]))
  fig.append('line').attr('x1', 313).attr('x2', 313 + s(0.01)).attr('y1', 137).attr('y2', 137)
    .attr('stroke', '#222').attr('stroke-width', 1)
  txt(320, 130.5, '0.01', 8, { anchor: 'middle', fill: '#222' })
}

// ---------------- C ----------------
{
  const b = [541, 6, 706, 176]
  const x = d3.scaleLinear().domain([0, 500]).range([624, 669.5])
  const y = d3.scaleLinear().domain([-1, 1]).range([168, 10])
  dots(cPoints, x, y, 3.3, d => turbo(d[2]))
  fig.append('line').attr('x1', x(cFit[0][0])).attr('y1', y(cFit[0][1])).attr('x2', x(cFit[1][0])).attr('y2', y(cFit[1][1]))
    .attr('stroke', '#3366ff').attr('stroke-width', 1)
  box(b)
  axis('left', y, [-1, -0.5, 0, 0.5, 1], d => d.toFixed(1), b[0], 6)
  axis('bottom', x, [-500, 0, 500], d => String(d), b[3], 4.5)
  txt(623, 199.5, 'Trait Value', 11, { anchor: 'middle' })
  txt(513, 100, 'PC1', 11, { anchor: 'middle', rotate: -90 })
  txt(610.7, 28, 'R', 9.5)
  txt(621.7, 28, '= \u22121', 9.5)
  txt(610.7, 46, 'p', 9.5)
  txt(621.7, 46, '< 2.2e-16', 9.5)
  // inset
  const ib = [563, 92, 614, 150]
  fig.append('rect').attr('x', ib[0]).attr('y', ib[1]).attr('width', ib[2] - ib[0]).attr('height', ib[3] - ib[1]).attr('fill', '#fff')
  const ix = d3.scaleLinear().domain([-1.05, 1.05]).range([ib[0], ib[2]])
  const iy = d3.scaleLinear().domain([0.62, -0.89]).range([ib[1], ib[3]])
  dots(cInset, ix, iy, 2.6, d => turbo(d[2]))
  box(ib, 1)
  axis('left', iy, [-0.8, -0.4, 0, 0.4], d => d.toFixed(1), ib[0], 2, 6.5)
  axis('bottom', ix, [-1, -0.5, 0, 0.5, 1], d => d.toFixed(1), ib[3], 2.5, 6.5)
  txt(588, 168, 'PC1 (47.8%)', 7.5, { anchor: 'middle', fill: '#222' })
  txt(560, 121, 'PC2 (12.1%)', 7.5, { anchor: 'middle', fill: '#222', rotate: -90 })
}

// ---------------- E ----------------
{
  const s = d3.scaleLinear().domain([0, 0.01]).range([0, 10])
  const root = d3.hierarchy({ children: eClades.map(c => ({ hub: c.hub, children: c.tips.map(t => ({ t: t[0], len: t[1] })) })) })
  d3.cluster().size([333, 1]).separation((a, b) => a.parent === b.parent ? 1 : 2)(root)
  const pos = (ang, len) => {
    const a = (ang - 15) * Math.PI / 180
    return [368 + s(len * 0.001) * Math.cos(a), 297 + s(len * 0.001) * Math.sin(a)]
  }
  const g = fig.append('g')
  root.children.forEach(c => {
    const mid = d3.mean(c.children, l => l.x)
    c.p = pos(mid, c.data.hub)
    g.append('line').attr('x1', 368).attr('y1', 297).attr('x2', c.p[0]).attr('y2', c.p[1])
      .attr('stroke', '#222').attr('stroke-width', 0.9)
  })
  const leaves = root.leaves()
  leaves.forEach(l => { l.p = pos(l.x, l.data.len) })
  g.selectAll('line.tip').data(leaves).enter().append('line').attr('class', 'tip')
    .attr('x1', d => d.parent.p[0]).attr('y1', d => d.parent.p[1])
    .attr('x2', d => d.p[0]).attr('y2', d => d.p[1])
    .attr('stroke', '#111').attr('stroke-width', 0.75)
  g.selectAll('circle').data(leaves).enter().append('circle')
    .attr('cx', d => d.p[0]).attr('cy', d => d.p[1]).attr('r', 2.8).attr('fill', d => turbo(d.data.t))
  fig.append('line').attr('x1', 282.7).attr('x2', 282.7 + s(0.01)).attr('y1', 241.7).attr('y2', 241.7)
    .attr('stroke', '#222').attr('stroke-width', 1)
  txt(287.5, 235.5, '0.01', 8, { anchor: 'middle', fill: '#222' })
}

// ---------------- F ----------------
{
  const b = [542, 213, 711, 380]
  const x = d3.scaleLinear().domain([0, -600]).range([668.2, 557.8])
  const y = d3.scaleLinear().domain([0, 0.4]).range([291, 245])
  const col = d3.scaleSequential(turbo).domain([-0.72, 0.62])
  dots(fPoints, x, y, 3.5, d => col(d[1]))
  fig.append('line').attr('x1', x(fFit[0][0])).attr('y1', y(fFit[0][1])).attr('x2', x(fFit[1][0])).attr('y2', y(fFit[1][1]))
    .attr('stroke', '#3366ff').attr('stroke-width', 1)
  box(b)
  axis('left', y, [-0.4, 0, 0.4], d => d.toFixed(1), b[0], 7)
  axis('bottom', x, [-600, -400, -200, 0], d => String(d), b[3], 5)
  txt(627, 407.5, 'Trait Value', 11, { anchor: 'middle' })
  txt(515, 292, 'PC1', 11, { anchor: 'middle', rotate: -90 })
  txt(574, 327, 'R', 9.5)
  txt(585, 327, '= \u22120.96', 9.5)
  txt(574, 338.5, 'p', 9.5)
  txt(585, 338.5, '< 2.2e-16', 9.5)
  // inset
  const ib = [656, 214, 700, 262]
  fig.append('rect').attr('x', ib[0]).attr('y', ib[1]).attr('width', ib[2] - ib[0]).attr('height', ib[3] - ib[1]).attr('fill', '#fff')
  const ix = d3.scaleLinear().domain([-0.575, 0.525]).range([ib[0], ib[2]])
  const iy = d3.scaleLinear().domain([0.43, -0.55]).range([ib[1], ib[3]])
  dots(fInset, ix, iy, 2.6, d => turbo(d[2]))
  box(ib, 1)
  axis('left', iy, [-0.5, -0.25, 0, 0.25], d => d.toFixed(2), ib[0], 2.5, 6.5)
  axis('bottom', ix, [-0.4, 0, 0.4], d => d.toFixed(1), ib[3], 2.5, 6.5)
  txt(678, 279, 'PC1 (19.6%)', 7.5, { anchor: 'middle', fill: '#222' })
  txt(631, 237, 'PC2 (8.36%)', 7.5, { anchor: 'middle', fill: '#222', rotate: -90 })
}

// ---------------- H ----------------
{
  const s = d3.scaleLinear().domain([0, 0.01]).range([0, 8])
  const root = d3.hierarchy({
    children: hSectors.map(sec => ({
      children: sec.map(gr => ({ t: gr[1], len: gr[2], children: d3.range(gr[0]).map(() => ({})) }))
    }))
  })
  d3.cluster().size([360, 1]).separation((a, b) => a.parent === b.parent ? 1 : a.parent.parent === b.parent.parent ? 1.2 : 3.5)(root)
  const cx = 393
  const cy = 497
  const pos = (ang, len) => {
    const a = ang * Math.PI / 180
    return [cx + s(len) * Math.cos(a), cy + s(len) * Math.sin(a)]
  }
  const tips = root.leaves().map(l => ({ p: pos(l.x - 90, l.parent.data.len), t: l.parent.data.t }))
  hExtra.forEach(e => tips.push({ p: pos(e[0], e[1]), t: e[2] }))
  const g = fig.append('g')
  g.selectAll('line').data(tips).enter().append('line')
    .attr('x1', cx).attr('y1', cy).attr('x2', d => d.p[0]).attr('y2', d => d.p[1])
    .attr('stroke', '#111').attr('stroke-width', 0.6)
  g.selectAll('circle').data(tips).enter().append('circle')
    .attr('cx', d => d.p[0]).attr('cy', d => d.p[1]).attr('r', 2.8).attr('fill', d => turbo(d.t))
  fig.append('line').attr('x1', 305).attr('x2', 305 + s(0.01)).attr('y1', 580).attr('y2', 580)
    .attr('stroke', '#222').attr('stroke-width', 1)
  txt(309, 575.5, '0.01', 8, { anchor: 'middle', fill: '#222' })
}

// ---------------- I ----------------
{
  const b = [546, 418, 709, 587]
  const x = d3.scaleLinear().domain([0, 100]).range([614.8, 646])
  const y = d3.scaleLinear().domain([0, -1]).range([440, 549])
  dots(iPoints, x, y, 3.3, d => turbo(d[2]))
  const band = d3.area().x(d => x(d[0])).y0(d => y(d[1] - 0.014)).y1(d => y(d[1] + 0.014))
  fig.append('path').attr('d', band(iFit)).attr('fill', '#999').attr('fill-opacity', 0.45)
  fig.append('line').attr('x1', x(iFit[0][0])).attr('y1', y(iFit[0][1])).attr('x2', x(iFit[1][0])).attr('y2', y(iFit[1][1]))
    .attr('stroke', '#3366ff').attr('stroke-width', 1)
  box(b)
  axis('left', y, [-1, -0.5, 0], d => d.toFixed(1), b[0], 9)
  axis('bottom', x, [-200, -100, 0, 100, 200], d => String(d), b[3], 4.5)
  txt(627, 615.5, 'Trait Value', 11, { anchor: 'middle' })
  txt(518, 500, 'PC1', 11, { anchor: 'middle', rotate: -90 })
  txt(553.3, 495, 'R', 9.5)
  txt(565, 495, '= 0.086', 9.5)
  txt(553.3, 506, 'p', 9.5)
  txt(565, 506, '= 0.056', 9.5)
  // inset
  const ib = [639, 476, 692, 543]
  fig.append('rect').attr('x', ib[0]).attr('y', ib[1]).attr('width', ib[2] - ib[0]).attr('height', ib[3] - ib[1]).attr('fill', '#fff')
  const ix = d3.scaleLinear().domain([-1, 0]).range([647, 690])
  const iy = d3.scaleLinear().domain([0, -1]).range([486, 532.7])
  dots(iInset, ix, iy, 2.5, d => turbo(d[2]))
  box(ib, 1)
  axis('left', iy, [-1.2, -0.8, -0.4, 0], d => d.toFixed(1), ib[0], 2.5, 6.5)
  axis('bottom', ix, [-1, -0.5, 0], d => d.toFixed(1), ib[3], 2.5, 6.5)
  txt(667, 562, 'PC1 (7.34%)', 7.5, { anchor: 'middle', fill: '#222' })
  txt(623, 510, 'PC2 (6.42%)', 7.5, { anchor: 'middle', fill: '#222', rotate: -90 })
}

// ---------------- J ----------------
{
  const b = [53, 608, 217, 777]
  const x = d3.scaleLinear().domain([0, 10]).range([136, 164.8])
  const y = d3.scaleLinear().domain([0, 0.75]).range([769, 647])
  const series = [j1kb, j10kb, j20kb, j50kb, j100kb, jReal]
  const area = d3.area().x(d => x(d[0])).y0(y(0)).y1(d => y(d[1])).curve(d3.curveMonotoneX)
  const line = d3.line().x(d => x(d[0])).y(d => y(d[1])).curve(d3.curveMonotoneX)
  series.forEach((s, i) => {
    fig.append('path').attr('d', area(s)).attr('fill', jColors[i]).attr('fill-opacity', 0.1)
  })
  series.forEach((s, i) => {
    fig.append('path').attr('d', line(s)).attr('fill', 'none').attr('stroke', jColors[i]).attr('stroke-width', 1.1)
  })
  box(b)
  axis('left', y, [0, 0.25, 0.5, 0.75], d => d.toFixed(2), b[0], 2)
  axis('bottom', x, [-20, -10, 0, 10, 20], d => String(d), b[3], 3.5)
  txt(135, 800.5, 'PC1 Loading Value', 11, { anchor: 'middle' })
  txt(21.5, 693, 'Density', 11, { anchor: 'middle', rotate: -90 })
  txt(63.3, 634.5, 'HGT length', 11)
  hgtLabels.forEach((l, i) => {
    const cyy = 647.3 + i * 9.1
    fig.append('rect').attr('x', 68.5).attr('y', cyy - 3.5).attr('width', 7).attr('height', 7)
      .attr('fill', '#fff').attr('stroke', jColors[i]).attr('stroke-width', 1.2)
    txt(80.7, cyy + 3.2, l, 8.8)
  })
}

// ---------------- K ----------------
{
  const b = [306, 610, 473, 777]
  const x = d3.scaleLinear().domain([2, 10]).range([306.6, 466])
  const y = d3.scaleLinear().domain([-2, -6]).range([661, 770])
  const series = [k1kb, k10kb, k20kb, k100kb, k50kb, kReal]
  const idx = [0, 1, 2, 4, 3, 5]
  const band = d3.area().x(d => x(d[0])).y0(d => y(d[1] - d[2])).y1(d => y(d[1] + d[2])).curve(d3.curveMonotoneX)
  const line = d3.line().x(d => x(d[0])).y(d => y(d[1])).curve(d3.curveMonotoneX)
  series.forEach((s, k) => {
    const c = kColors[idx[k]]
    fig.append('path').attr('d', band(s)).attr('fill', c).attr('fill-opacity', 0.9)
    fig.append('path').attr('d', line(s)).attr('fill', 'none').attr('stroke', c).attr('stroke-width', 1.1)
  })
  box(b)
  axis('left', y, [-6, -4, -2], d => String(d), b[0], 5)
  axis('bottom', x, [2, 4, 6, 8, 10], d => String(d), b[3], 3.5)
  txt(377, 800.5, 'SNP Distance (log scale)', 11, { anchor: 'middle' })
  txt(285, 697, 'LD (log scale)', 11, { anchor: 'middle', rotate: -90 })
  txt(319, 706, 'HGT length', 11)
  hgtLabels.forEach((l, i) => {
    const cyy = 715.7 + i * 9.7
    fig.append('line').attr('x1', 324).attr('x2', 332).attr('y1', cyy).attr('y2', cyy)
      .attr('stroke', kColors[i]).attr('stroke-width', 1.8)
    txt(335, cyy + 3.2, l, 9.2)
  })
}

// ---------------- panel letters ----------------
panelLabel(3, 13.5, 'A')
panelLabel(248, 16, 'B')
panelLabel(502, 17, 'C')
panelLabel(3, 207, 'D')
panelLabel(248, 210, 'E')
panelLabel(502, 208, 'F')
panelLabel(3, 413, 'G')
panelLabel(248, 410, 'H')
panelLabel(502, 417, 'I')
panelLabel(3, 614, 'J')
panelLabel(248, 607, 'K')
</script>
</body>
</html>
